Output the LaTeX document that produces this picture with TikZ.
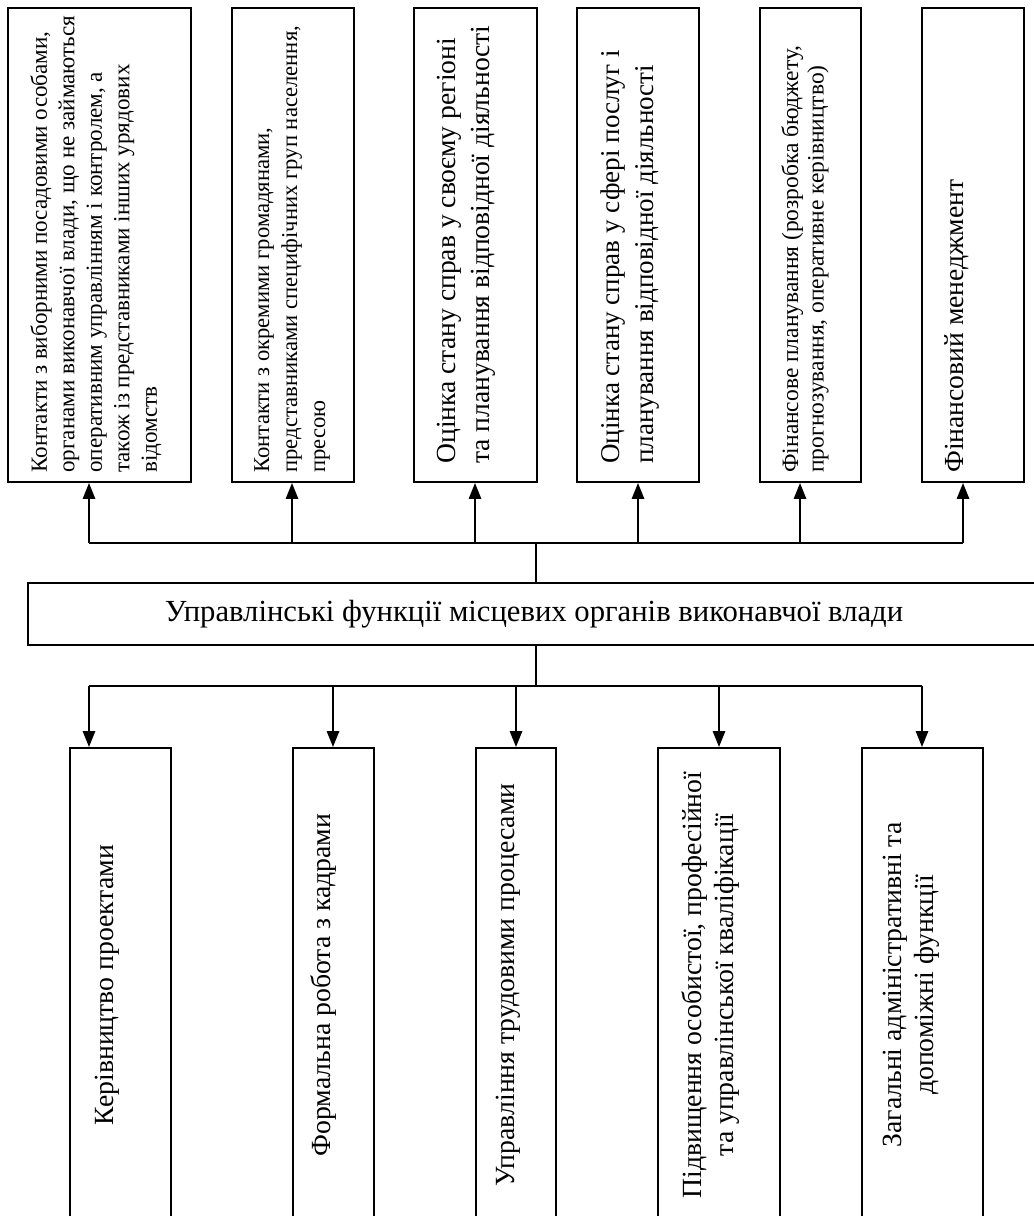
\documentclass[tikz,border=0pt]{standalone}
\usepackage{fontspec}
\setmainfont{Liberation Serif}
\usetikzlibrary{arrows.meta,calc}

\newcommand{\pxu}{0.75pt}
\newcommand{\fsz}[2]{\fontsize{#1}{#2}\selectfont}
\tikzset{
  box/.style={draw, line width=1.3pt, inner sep=0pt},
  toptext/.style={rotate=90, anchor=north west, align=left, inner sep=0pt},
  bottext/.style={rotate=90, anchor=north, align=center, inner sep=0pt},
  bus/.style={line width=2pt},
  arr/.style={line width=2pt, -{Triangle[width=9pt,length=12pt]}},
  stem/.style={line width=0.8pt}
}

\begin{document}
\begin{tikzpicture}[x=\pxu, y=-\pxu]
\path[use as bounding box] (0,0) rectangle (1034,1216);
\clip (0,0) rectangle (1034,1216);

% upper row
\node[box, minimum width=183*\pxu, minimum height=474*\pxu] (t1) at (99.5,245) {};
\node[box, minimum width=122*\pxu, minimum height=474*\pxu] (t2) at (293,245) {};
\node[box, minimum width=123*\pxu, minimum height=474*\pxu] (t3) at (475.5,245) {};
\node[box, minimum width=122*\pxu, minimum height=474*\pxu] (t4) at (638,245) {};
\node[box, minimum width=101*\pxu, minimum height=474*\pxu] (t5) at (810.5,245) {};
\node[box, minimum width=102*\pxu, minimum height=474*\pxu] (t6) at (973,245) {};

\node[toptext, font=\fsz{17.3pt}{20.6pt}] (t1l) at ($(t1.south west)+(23,-10)$)
  {Контакти з виборними посадовими особами,\\органами виконавчої влади, що не займаються\\оперативним управлінням і контролем, а\\також із представниками інших урядових\\відомств};
\node[toptext, font=\fsz{17pt}{21pt}] (t2l) at ($(t2.south west)+(23,-10)$)
  {Контакти з окремими громадянами,\\представниками специфічних груп населення,\\пресою};
\node[toptext, font=\fsz{20.7pt}{25.5pt}] (t3l) at ($(t3.south west)+(24,-19)$)
  {Оцінка стану справ у своєму регіоні\\та планування відповідної діяльності};
\node[toptext, font=\fsz{20.3pt}{25.5pt}] (t4l) at ($(t4.south west)+(24,-19)$)
  {Оцінка стану справ у сфері послуг і\\планування відповідної діяльності};
\node[toptext, font=\fsz{17.6pt}{19pt}] (t5l) at ($(t5.south west)+(22,-10)$)
  {Фінансове планування (розробка бюджету,\\прогнозування, оперативне керівництво)};
\node[toptext, font=\fsz{20.7pt}{24pt}] (t6l) at ($(t6.south west)+(23,-10)$)
  {Фінансовий менеджмент};

% centre
\node[box, minimum width=1012*\pxu, minimum height=62*\pxu, font=\fsz{23pt}{26pt}] (m) at (534,614)
  {Управлінські функції місцевих органів виконавчої влади};

% lower row
\node[box, minimum width=101*\pxu, minimum height=474*\pxu] (b1) at (120.5,985) {};
\node[box, minimum width=81*\pxu, minimum height=474*\pxu] (b2) at (333.5,985) {};
\node[box, minimum width=80*\pxu, minimum height=474*\pxu] (b3) at (516,985) {};
\node[box, minimum width=122*\pxu, minimum height=474*\pxu] (b4) at (719,985) {};
\node[box, minimum width=121*\pxu, minimum height=474*\pxu] (b5) at (922.5,985) {};

\node[bottext, font=\fsz{20.8pt}{24pt}] (b1l) at ($(b1.west)+(26,0)$) {Керівництво проектами};
\node[bottext, font=\fsz{20.8pt}{24pt}] (b2l) at ($(b2.west)+(18,0)$) {Формальна робота з кадрами};
\node[bottext, font=\fsz{20.8pt}{24pt}] (b3l) at ($(b3.west)+(21,0)$) {Управління трудовими процесами};
\node[bottext, font=\fsz{20.8pt}{24pt}] (b4l) at ($(b4.west)+(24,0)$) {Підвищення особистої, професійної\\та управлінської кваліфікації};
\node[bottext, font=\fsz{20.8pt}{24pt}] (b5l) at ($(b5.west)+(22,0)$) {Загальні адміністративні та\\допоміжні функції};

% connectors
\foreach \n/\x in {t1/89, t2/292, t3/475, t4/638, t5/800, t6/963} {
  \coordinate (u\n) at (\x,543);
  \draw[arr] (u\n) -- (u\n |- \n.south);
}
\draw[bus] (ut1) -- (ut6);
\coordinate (c1) at (536,543);
\draw[stem] (c1) -- (c1 |- m.north);

\foreach \n/\x in {b1/89, b2/333, b3/516, b4/719, b5/922} {
  \coordinate (d\n) at (\x,686);
  \draw[arr] (d\n) -- (d\n |- \n.north);
}
\draw[bus] (db1) -- (db5);
\coordinate (c2) at (536,686);
\draw[stem] (m.south -| c2) -- (c2);
\end{tikzpicture}
\end{document}
